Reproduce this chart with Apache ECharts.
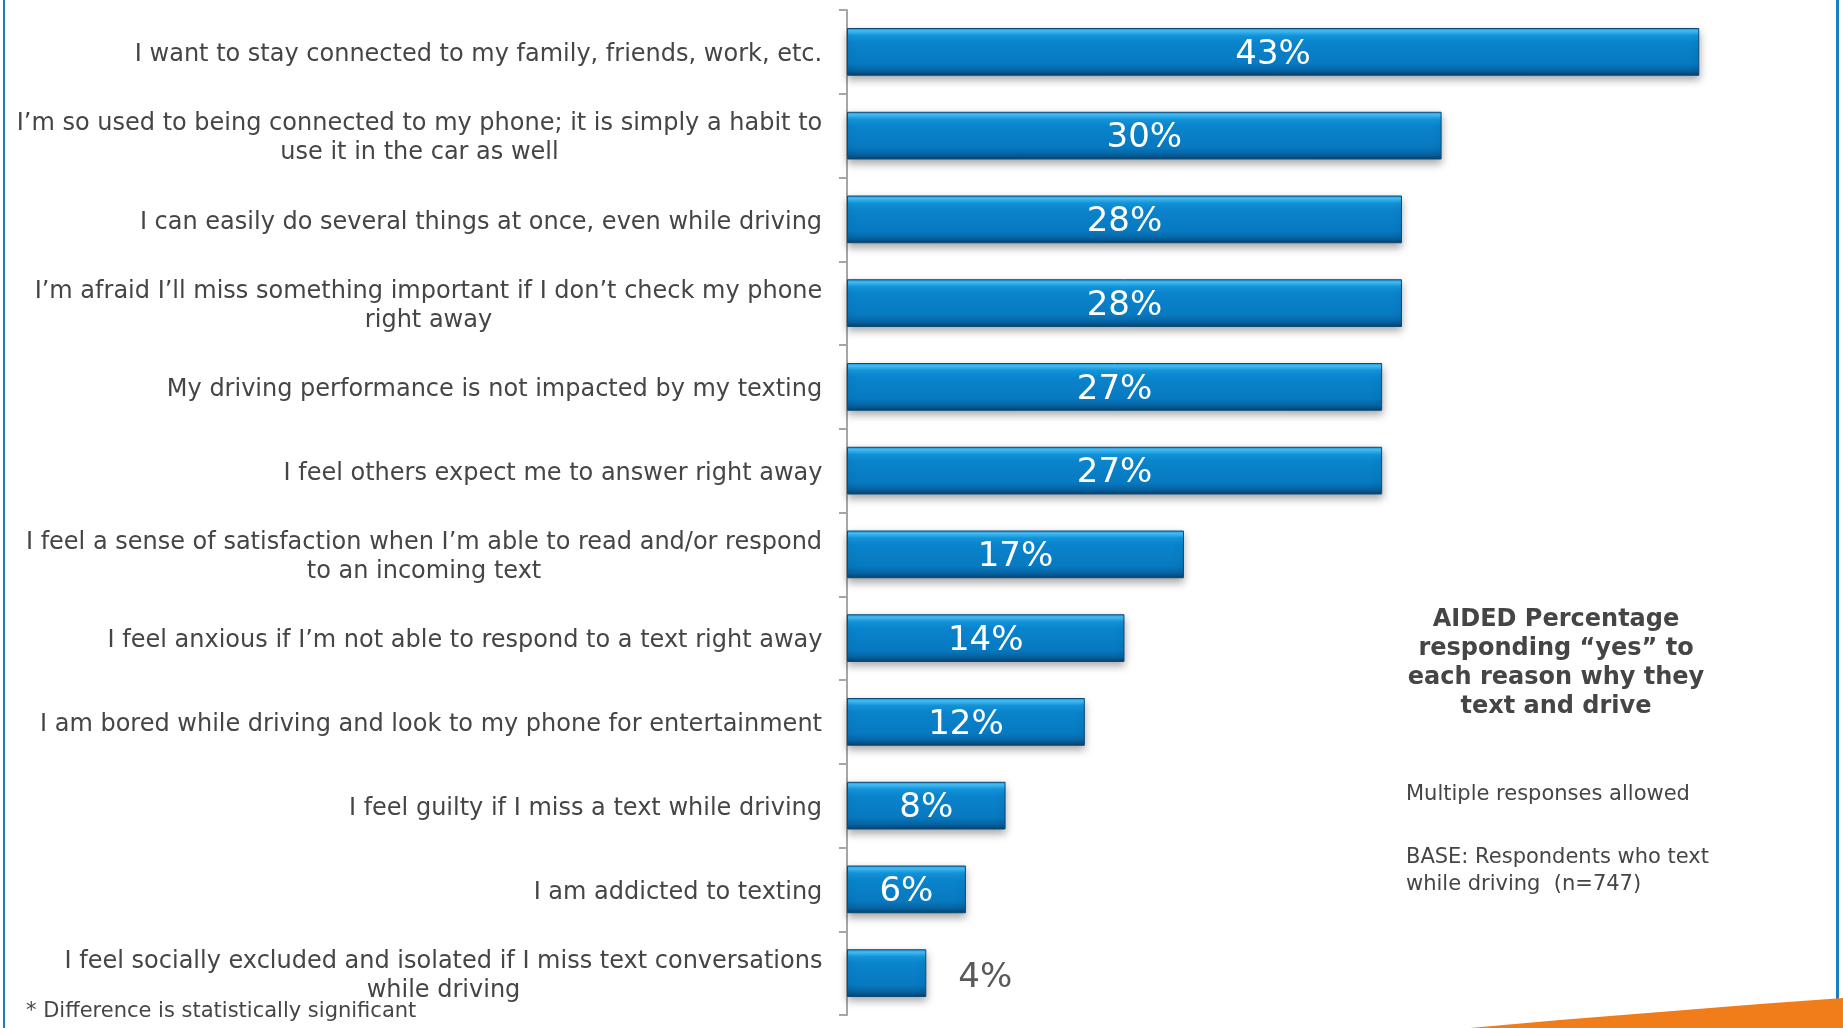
<!DOCTYPE html>
<html>
<head>
<meta charset="utf-8">
<script src="https://cdn.jsdelivr.net/npm/echarts@6/dist/echarts.min.js"></script>
<style>
html,body{margin:0;padding:0;background:#fff;}
#chart{width:1843px;height:1028px;}
</style>
</head>
<body>
<div id="chart"></div>
<script>
const categories = [
  "I want to stay connected to my family, friends, work, etc.",
  "I\u2019m so used to being connected to my phone; it is simply a habit to\nuse it in the car as well",
  "I can easily do several things at once, even while driving",
  "I\u2019m afraid I\u2019ll miss something important if I don\u2019t check my phone\nright away",
  "My driving performance is not impacted by my texting",
  "I feel others expect me to answer right away",
  "I feel a sense of satisfaction when I\u2019m able to read and/or respond\nto an incoming text",
  "I feel anxious if I\u2019m not able to respond to a text right away",
  "I am bored while driving and look to my phone for entertainment",
  "I feel guilty if I miss a text while driving",
  "I am addicted to texting",
  "I feel socially excluded and isolated if I miss text conversations\nwhile driving"
];
const values = [43, 30, 28, 28, 27, 27, 17, 14, 12, 8, 6, 4];
const titleLines = ["AIDED Percentage", "responding \u201cyes\u201d to", "each reason why they", "text and drive"];
const noteText = "Multiple responses allowed";
const baseText = "BASE: Respondents who text\nwhile driving  (n=747)";
const footnote = "* Difference is statistically significant";

const FONT = "'DejaVu Sans', Verdana, sans-serif";
const LABEL_SIZE = 24;
const chart = echarts.init(document.getElementById('chart'), null, {renderer: 'canvas'});

// measure label lines so multi-line labels are centered within a right-aligned block
const cvs = document.createElement('canvas').getContext('2d');
cvs.font = LABEL_SIZE + 'px ' + FONT;
const rich = {};
categories.forEach((c, i) => {
  const w = Math.max(...c.split('\n').map(l => cvs.measureText(l).width));
  rich['c' + i] = {
    width: Math.ceil(w) + 1, align: 'center',
    fontFamily: FONT, fontSize: LABEL_SIZE, lineHeight: 29, color: '#454545'
  };
});

const barColor = new echarts.graphic.LinearGradient(0, 0, 0, 1, [
  {offset: 0, color: '#1a8ed8'},
  {offset: 0.06, color: '#45c2fa'},
  {offset: 0.16, color: '#1496de'},
  {offset: 0.3, color: '#0a84cc'},
  {offset: 0.75, color: '#0779c0'},
  {offset: 0.9, color: '#0662a0'},
  {offset: 1, color: '#0a3f68'}
]);

const seriesData = values.map(v => {
  const item = {value: v};
  if (v < 5) {
    item.label = {position: 'right', distance: 32, offset: [0, 5], color: '#595959'};
  }
  return item;
});

chart.setOption({
  animation: false,
  backgroundColor: '#ffffff',
  grid: {left: 847, right: 5, top: 10, bottom: 13, containLabel: false},
  xAxis: {type: 'value', min: 0, max: 50, show: false},
  yAxis: {
    type: 'category',
    inverse: true,
    data: categories,
    axisLine: {show: true, lineStyle: {color: '#a6a6a6', width: 2}},
    axisTick: {show: true, inside: false, length: 8, lineStyle: {color: '#a6a6a6', width: 2}},
    axisLabel: {
      margin: 24,
      align: 'right',
      padding: [6, 0, 0, 0],
      formatter: (val, idx) => val.split('\n').map(l => '{c' + idx + '|' + l + '}').join('\n'),
      rich: rich
    }
  },
  series: [{
    type: 'bar',
    data: seriesData,
    barCategoryGap: '43%',
    itemStyle: {
      color: barColor,
      borderColor: '#0b4a78',
      borderWidth: 1,
      shadowColor: 'rgba(0,0,0,0.35)',
      shadowBlur: 8,
      shadowOffsetY: 4
    },
    label: {
      show: true,
      position: 'inside',
      offset: [0, 3],
      formatter: '{c}%',
      color: '#ffffff',
      fontFamily: FONT,
      fontSize: 34
    }
  }],
  graphic: [
    {type: 'rect', shape: {x: 3, y: 0, width: 2, height: 1028}, style: {fill: '#1a7fc1'}, silent: true},
    {type: 'rect', shape: {x: 1836, y: 0, width: 3, height: 1028}, style: {fill: '#1a7fc1'}, silent: true},
    {type: 'polygon', shape: {points: [[1470, 1028], [1560, 1020], [1660, 1012], [1760, 1004], [1843, 998], [1843, 1028]]}, style: {fill: '#f07d1a'}, silent: true},
    {type: 'text', x: 1556, y: 605, style: {
      text: titleLines.join('\n'), textAlign: 'center',
      font: 'bold 24px ' + FONT, fill: '#454545', lineHeight: 29
    }},
    {type: 'text', x: 1406, y: 784, style: {text: noteText, font: '21px ' + FONT, fill: '#454545'}},
    {type: 'text', x: 1406, y: 844, style: {text: baseText, font: '21px ' + FONT, fill: '#454545', lineHeight: 27}},
    {type: 'text', x: 26, y: 1001, style: {text: footnote, font: '21px ' + FONT, fill: '#454545'}}
  ]
});
</script>
</body>
</html>
